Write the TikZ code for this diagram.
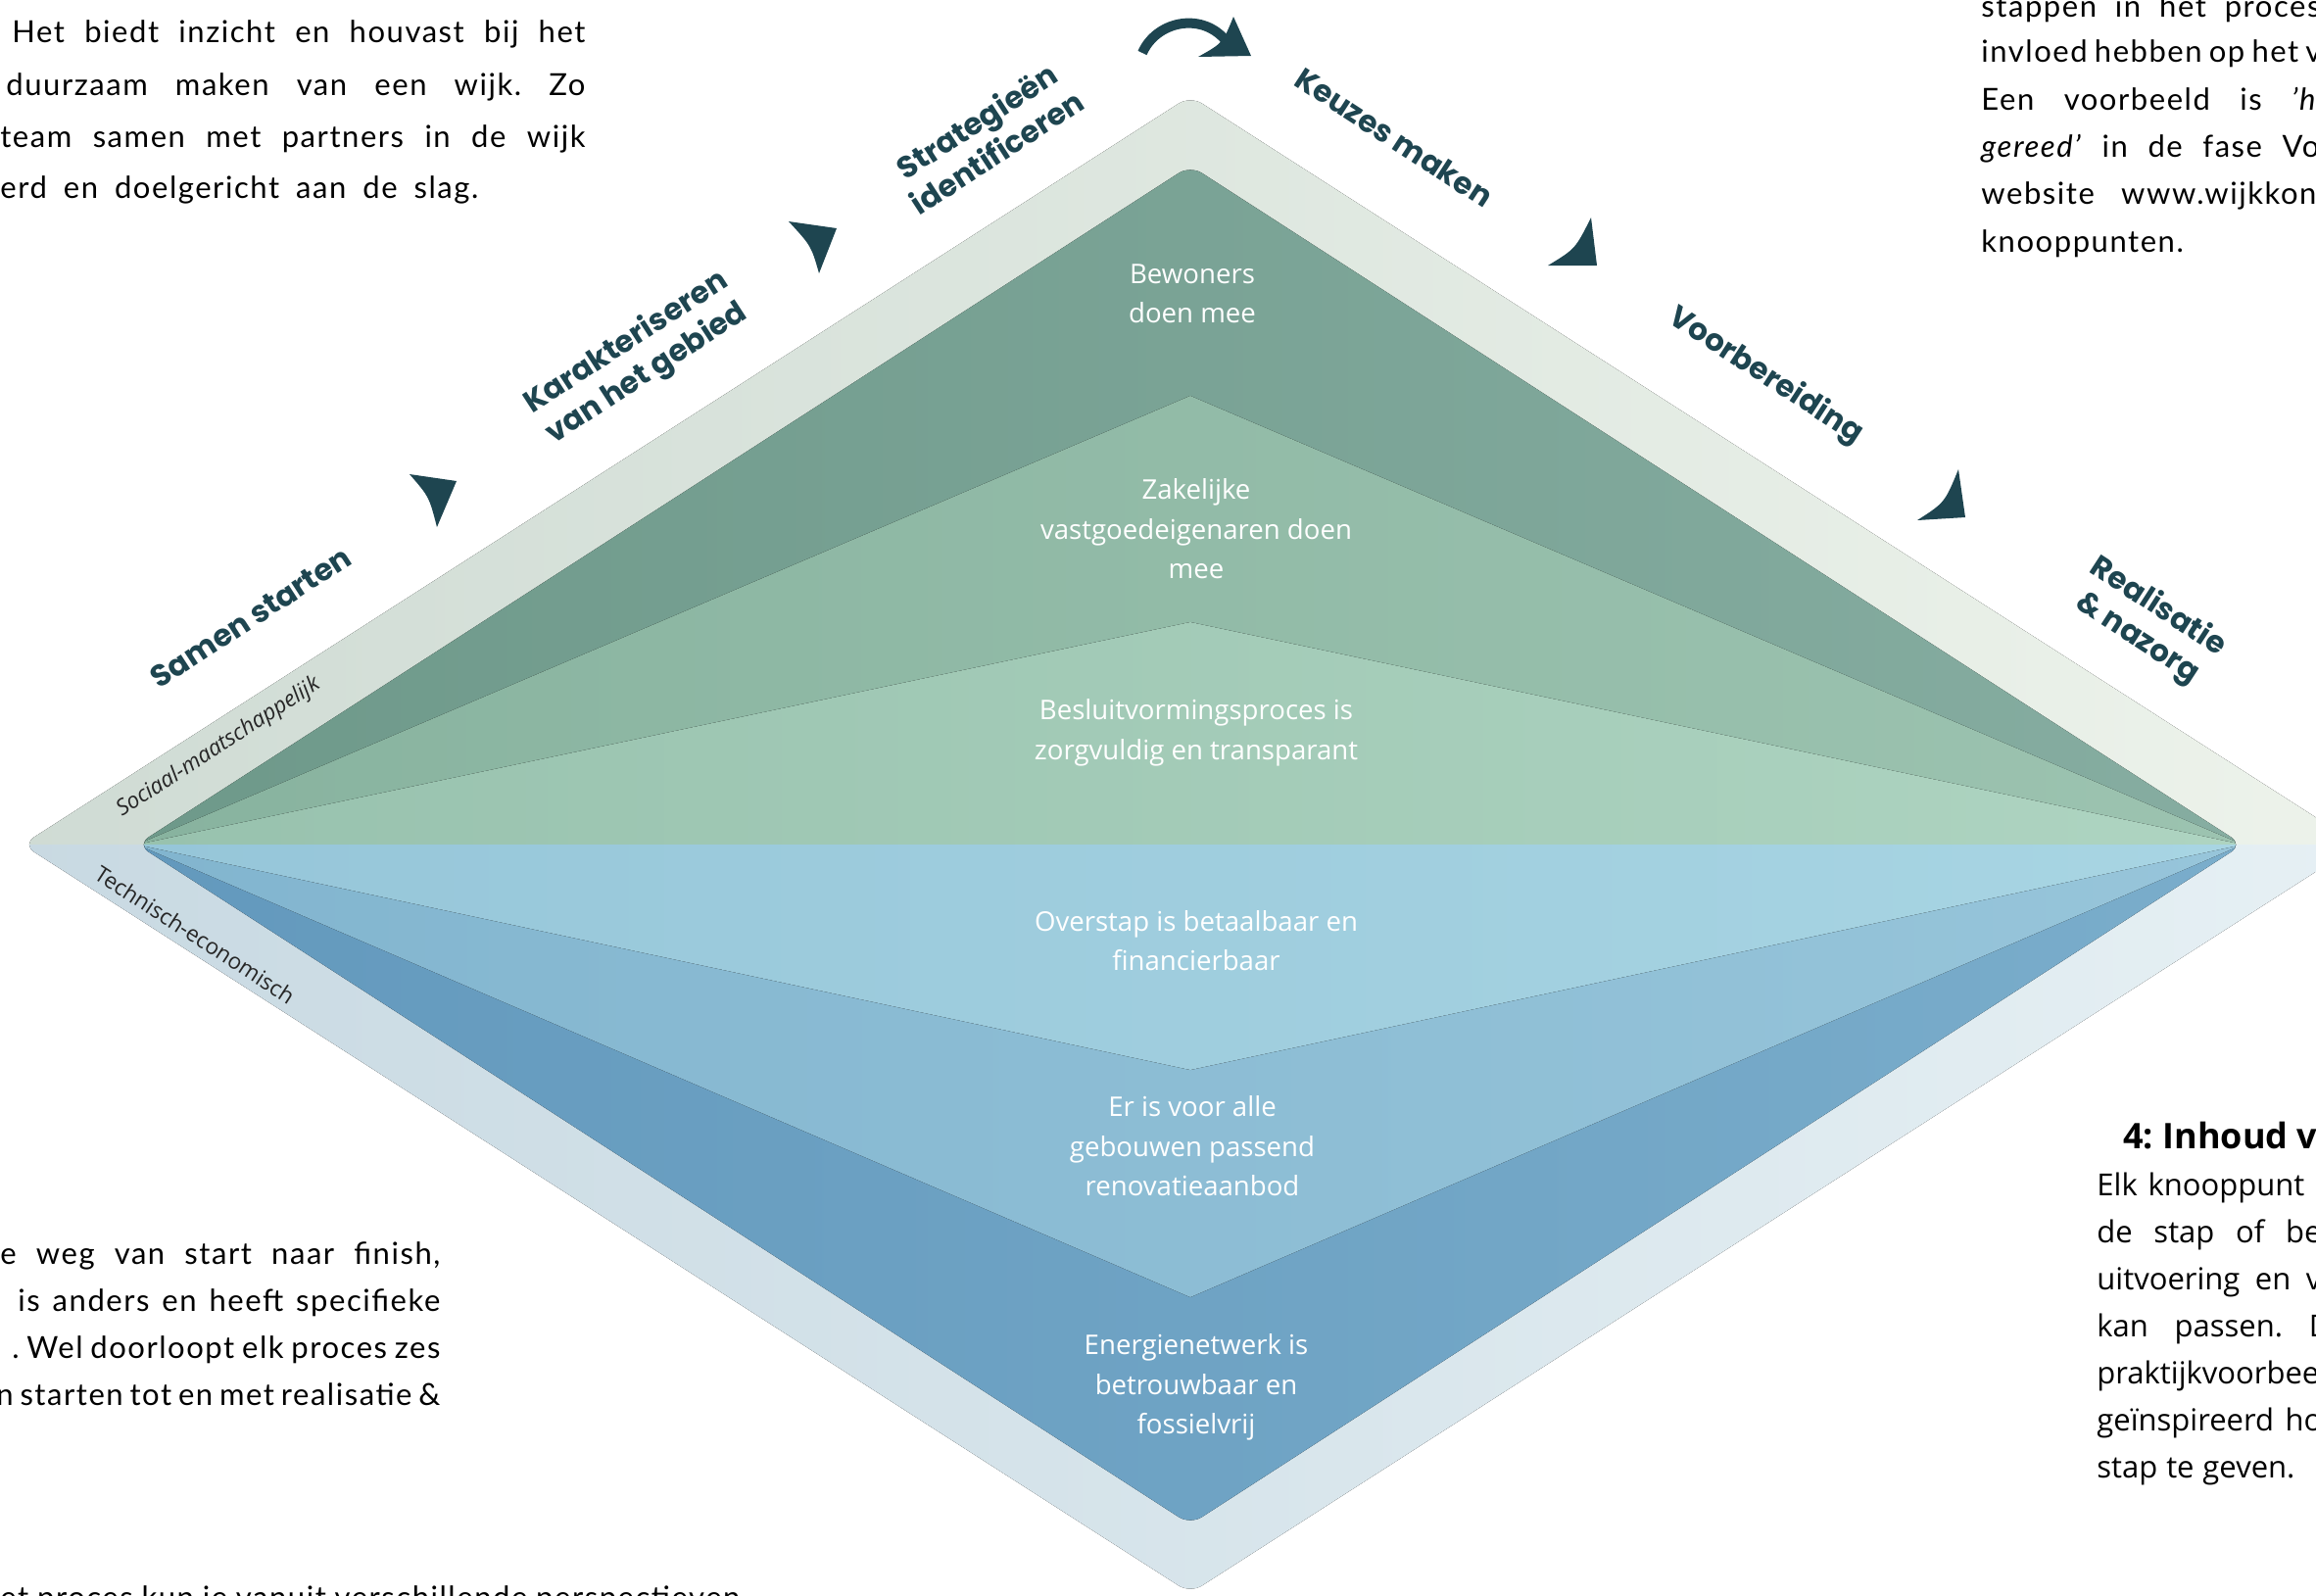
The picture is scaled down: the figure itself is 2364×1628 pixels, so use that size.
\documentclass[tikz,border=0pt]{standalone}
\usepackage{fontspec}
\setmainfont{Lato}[LetterSpace=5]
\newfontfamily\goalfont{Open Sans}
\newfontfamily\phasefont{Poppins}
\usetikzlibrary{positioning}
\frenchspacing
\definecolor{phaseteal}{HTML}{1E4550}
\definecolor{bandgreenL}{HTML}{CFDBD4}
\definecolor{bandgreenR}{HTML}{EDF3EB}
\definecolor{bandblueL}{HTML}{C8D9E2}
\definecolor{bandblueR}{HTML}{E6F0F4}
\definecolor{darkgreenL}{HTML}{6E998A}
\definecolor{darkgreenR}{HTML}{86ADA1}
\definecolor{midgreenL}{HTML}{88B39F}
\definecolor{midgreenR}{HTML}{9CC3B0}
\definecolor{lightgreenL}{HTML}{98C2AE}
\definecolor{lightgreenR}{HTML}{AED4C1}
\definecolor{darkblueL}{HTML}{6399BD}
\definecolor{darkblueR}{HTML}{7AADCB}
\definecolor{midblueL}{HTML}{82B5CF}
\definecolor{midblueR}{HTML}{97C5DA}
\definecolor{lightblueL}{HTML}{96C6D9}
\definecolor{lightblueR}{HTML}{A8D5E3}
\tikzset{
  phase/.style={font=\phasefont\bfseries\fontsize{15.5}{19}\selectfont, text=phaseteal, align=center, inner sep=0pt},
  goal/.style={font=\goalfont\fontsize{13.8}{20.25}\selectfont, text=white, align=center, inner sep=0pt},
  perspective/.style={font=\goalfont\fontsize{11.3}{13}\selectfont, text=black!85, inner sep=0pt},
  bodyline/.style={anchor=base west, inner sep=0pt, font=\fontsize{15.5}{19}\selectfont},
  infoline/.style={anchor=base west, inner sep=0pt, font=\goalfont\fontsize{15.5}{19}\selectfont},
  arrowtip/.style={fill=phaseteal},
}
\begin{document}
\begin{tikzpicture}[x=0.5pt, y=-0.5pt]
\useasboundingbox (0,0) rectangle (2364,1628);
\clip (0,0) rectangle (2364,1628);
% outer band
\begin{scope}
\clip[rounded corners=7pt] (23,862) -- (1215,98) -- (2407,862) -- (1215,1626) -- cycle;
\fill[left color=bandgreenL, right color=bandgreenR] (0,0) rectangle (2420,862);
\fill[left color=bandblueL, right color=bandblueR] (0,862) rectangle (2420,1640);
\end{scope}
% layers
\begin{scope}
\clip[rounded corners=7pt] (140,862) -- (1215,169) -- (2289,862) -- (1215,1556) -- cycle;
\fill[left color=darkgreenL, right color=darkgreenR] (140,150) rectangle (2289,862);
\fill[left color=darkblueL, right color=darkblueR] (140,862) rectangle (2289,1570);
\foreach \peak/\cl/\cr in {404/midgreenL/midgreenR, 635/lightgreenL/lightgreenR, 1324/midblueL/midblueR, 1092/lightblueL/lightblueR}
  \fill[left color=\cl, right color=\cr] (140,862) -- (1215,\peak) -- (2289,862) -- cycle;
\end{scope}
% goals
\node[goal] (bewoners) at (1217,300) {Bewoners\\doen mee};
\node[goal] (zakelijk) at (1221,540) {Zakelijke\\vastgoedeigenaren doen\\mee};
\node[goal] (besluit) at (1221,748) {Besluitvormingsproces is\\zorgvuldig en transparant};
\node[goal] (overstap) at (1221,960) {Overstap is betaalbaar en\\financierbaar};
\node[goal] (aanbod) at (1217,1170) {Er is voor alle\\gebouwen passend\\renovatieaanbod};
\node[goal] (netwerk) at (1221,1416) {Energienetwerk is\\betrouwbaar en\\fossielvrij};
% perspectives
\node[perspective, font=\goalfont\itshape\fontsize{11.3}{13}\selectfont, rotate=33] (sociaal) at (223,763) {Sociaal-maatschappelijk};
\node[perspective, rotate=-33] (technisch) at (199,954) {Technisch-economisch};
% phases
\node[phase, rotate=33] (samen) at (256,630) {Samen starten};
\node[phase, rotate=33] (karakter) at (650,366) {Karakteriseren\\van het gebied};
\node[phase, rotate=33] (strategie) at (1007,139) {Strategieën\\identificeren};
\node[phase, rotate=-33] (keuzes) at (1423,140) {Keuzes maken};
\node[phase, rotate=-33] (voorbereiding) at (1802,384) {Voorbereiding};
\node[phase, rotate=-33] (realisatie) at (2192,636) {Realisatie\\\& nazorg};
% arrow tips
\fill[arrowtip] (418,484) -- (466,491) -- (446,538) .. controls (438,507) .. (418,484) -- cycle;
\fill[arrowtip] (805,226) -- (854,233) -- (836,279) .. controls (828,251) .. (805,226) -- cycle;
\fill[arrowtip] (1624,222) -- (1630,271) -- (1580,271) .. controls (1608,254) .. (1624,222) -- cycle;
\fill[arrowtip] (1999,479) -- (2006,528) -- (1957,531) .. controls (1985,513) .. (1999,479) -- cycle;
\draw[phaseteal, line width=5pt] (1166,54) .. controls (1180,22) and (1225,12) .. (1250,40);
\fill[arrowtip] (1259,17) -- (1277,57) -- (1223,58) .. controls (1248,44) .. (1259,17) -- cycle;
% text beside the diagram
\foreach \x/\y/\w/\t in {12/43/292.5/{Het biedt inzicht en houvast bij het}, 6/97/295.5/{duurzaam maken van een wijk. Zo}, 0/150/298.5/{team samen met partners in de wijk}, 0/202/244/{erd en doelgericht aan de slag.}, 0/1290/224.5/{e weg van start naar finish,}, 18/1338/215.5/{is anders en heeft specifieke}, 12/1386/218.5/{. Wel doorloopt elk proces zes}, -4/1434/226.5/{n starten tot en met realisatie \&}, 0/1641/377.5/{et proces kun je vanuit verschillende perspectieven}, 2022/17/173/{stappen in het proces}, 2022/63/173.5/{invloed hebben op het v}, 2022/112/179.5/{Een voorbeeld is \textit{'he}}, 2022/160/172.5/{\textit{gereed'} in de fase Vo}, 2022/208/171/{website www.wijkkon}, 2022/257/90/{knooppunten.}}
  \node[bodyline] (line\x-\y) at (\x,\y) {\makebox[\w pt][s]{\t}};
\node[infoline, font=\goalfont\bfseries\fontsize{18}{20}\selectfont] (inhoud) at (2167,1172) {4: Inhoud v};
\foreach \y/\w/\t in {1220/120/{Elk knooppunt e}, 1268/114.5/{de stap of be}, 1316/114.5/{uitvoering en v}, 1364/119.5/{kan passen. D}, 1412/120/{praktijkvoorbee}, 1460/115/{geïnspireerd ho}, 1508/101/{stap te geven.}}
  \node[infoline] (info\y) at (2140,\y) {\makebox[\w pt][s]{\t}};
\end{tikzpicture}
\end{document}
